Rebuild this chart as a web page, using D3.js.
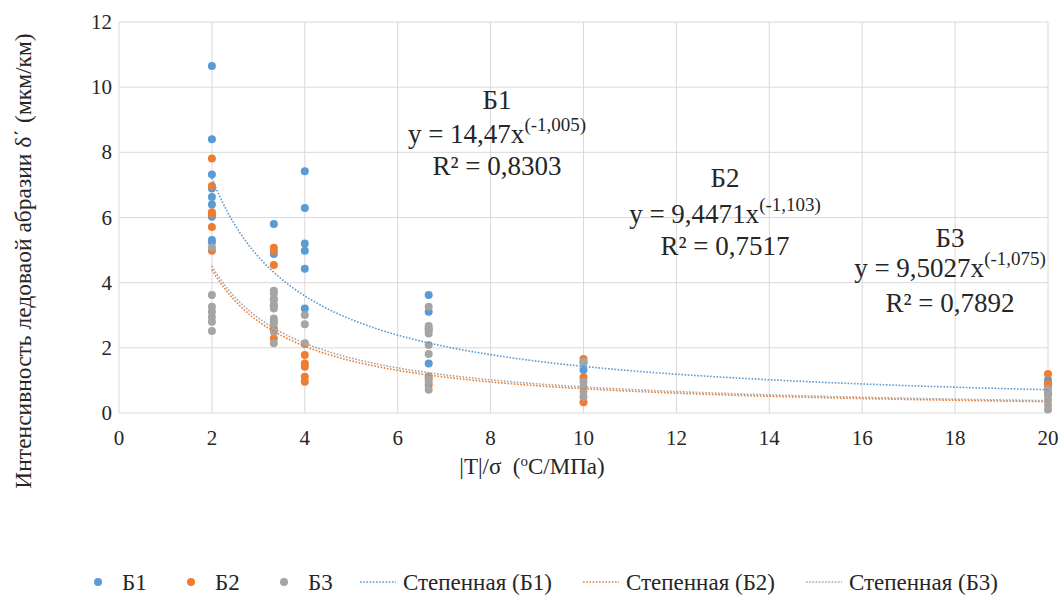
<!DOCTYPE html>
<html lang="ru">
<head>
    <meta charset="UTF-8">
    <title>Интенсивность ледовой абразии</title>
    <style>
        body {
            margin: 0;
            background: #fff;
        }
        .grid line {
            stroke: #d9d9d9;
            stroke-width: 1px;
        }
    </style>
</head>
<body>
    <svg id="chart" width="1062" height="597"></svg>

    <script src="https://d3js.org/d3.v7.min.js"></script>
    <script>
        // data: [x, y]
        const b1Points = [
            [2, 10.65], [2, 8.4], [2, 7.32], [2, 6.89], [2, 6.63], [2, 6.4], [2, 6.02], [2, 5.31], [2, 5.24],
            [3.333, 5.8], [3.333, 4.88], [3.333, 3.5], [3.333, 3.3],
            [4, 7.42], [4, 6.29], [4, 5.2], [4, 4.98], [4, 4.43], [4, 3.21],
            [6.667, 3.62], [6.667, 3.11], [6.667, 2.55], [6.667, 1.52],
            [10, 1.55], [10, 1.32],
            [20, 1.01], [20, 0.85], [20, 0.6]
        ];
        const b2Points = [
            [2, 7.81], [2, 6.97], [2, 6.16], [2, 6.1], [2, 5.71], [2, 4.98],
            [3.333, 5.07], [3.333, 4.98], [3.333, 4.54], [3.333, 2.8], [3.333, 2.6], [3.333, 2.29],
            [4, 2.12], [4, 1.78], [4, 1.52], [4, 1.42], [4, 1.11], [4, 0.96],
            [6.667, 1.06], [6.667, 0.86],
            [10, 1.66], [10, 1.1], [10, 0.33],
            [20, 1.2], [20, 0.89], [20, 0.6]
        ];
        const b3Points = [
            [2, 5.08], [2, 3.62], [2, 3.26], [2, 3.11], [2, 2.95], [2, 2.8], [2, 2.52],
            [3.333, 3.75], [3.333, 3.67], [3.333, 3.47], [3.333, 3.31], [3.333, 3.21], [3.333, 2.9], [3.333, 2.75], [3.333, 2.49], [3.333, 2.14],
            [4, 3.01], [4, 2.72], [4, 2.14],
            [6.667, 3.26], [6.667, 2.67], [6.667, 2.6], [6.667, 2.44], [6.667, 2.09], [6.667, 1.81], [6.667, 1.13], [6.667, 0.96], [6.667, 0.71],
            [10, 1.57], [10, 0.96], [10, 0.81], [10, 0.65], [10, 0.5],
            [20, 0.73], [20, 0.55], [20, 0.4], [20, 0.25], [20, 0.11]
        ];

        // power trendlines y = a * x^b, as printed on the chart
        const fitNames = ["Б1", "Б2", "Б3"];
        const fitA = [14.47, 9.4471, 9.5027];
        const fitB = [-1.005, -1.103, -1.075];
        const fitA_text = ["14,47", "9,4471", "9,5027"];
        const fitB_text = ["(-1,005)", "(-1,103)", "(-1,075)"];
        const fitR2_text = ["0,8303", "0,7517", "0,7892"];

        const xTicks = [0, 2, 4, 6, 8, 10, 12, 14, 16, 18, 20];
        const yTicks = [0, 2, 4, 6, 8, 10, 12];

        const colors = ["#5b9bd5", "#ed7d31", "#a5a5a5"];
        const serif = "'Liberation Serif', 'DejaVu Serif', serif";

        const svg = d3.select("#chart")
            .attr("font-family", serif)
            .attr("fill", "#262626");
        const x = d3.scaleLinear().domain([0, 20]).range([119, 1048]);
        const y = d3.scaleLinear().domain([0, 12]).range([413, 22]);

        // gridlines
        const grid = svg.append("g").attr("class", "grid");
        grid.selectAll(".hg").data(yTicks).join("line")
            .attr("x1", x(0)).attr("x2", x(20))
            .attr("y1", d => y(d)).attr("y2", d => y(d));
        grid.selectAll(".vg").data(xTicks).join("line")
            .attr("y1", y(0)).attr("y2", y(12))
            .attr("x1", d => x(d)).attr("x2", d => x(d));

        // tick labels
        svg.append("g").selectAll("text").data(yTicks).join("text")
            .attr("font-size", 21)
            .attr("x", 112).attr("y", d => y(d) + 7)
            .attr("text-anchor", "end")
            .text(d => d);
        svg.append("g").selectAll("text").data(xTicks).join("text")
            .attr("font-size", 21)
            .attr("x", d => x(d)).attr("y", 445)
            .attr("text-anchor", "middle")
            .text(d => d);

        // points
        [b1Points, b2Points, b3Points].forEach((pts, i) => {
            svg.append("g").selectAll("circle").data(pts).join("circle")
                .attr("cx", d => x(d[0]))
                .attr("cy", d => y(d[1]))
                .attr("r", 4)
                .attr("fill", colors[i]);
        });

        // trendlines
        const line = d3.line().x(d => x(d[0])).y(d => y(d[1]));
        fitA.forEach((a, i) => {
            const pts = d3.range(2, 20.01, 0.1).map(v => [v, a * Math.pow(v, fitB[i])]);
            svg.append("path")
                .attr("d", line(pts))
                .attr("fill", "none")
                .attr("stroke", colors[i])
                .attr("stroke-width", 1.6)
                .attr("stroke-dasharray", "1.6,1.6");
        });

        // equation notes
        const notePos = [[497, 109], [725, 187], [950, 247]];
        const noteGap = [[34, 66], [36, 68], [30, 65]];
        notePos.forEach((p, i) => {
            svg.append("text").attr("font-size", 27)
                .attr("x", p[0]).attr("y", p[1])
                .attr("text-anchor", "middle")
                .text(fitNames[i]);
            const eq = svg.append("text").attr("font-size", 27)
                .attr("x", p[0]).attr("y", p[1] + noteGap[i][0])
                .attr("text-anchor", "middle");
            eq.append("tspan").text("y = " + fitA_text[i] + "x");
            eq.append("tspan").attr("dy", -12).attr("font-size", 19).text(fitB_text[i]);
            svg.append("text").attr("font-size", 27)
                .attr("x", p[0]).attr("y", p[1] + noteGap[i][1])
                .attr("text-anchor", "middle")
                .text("R² = " + fitR2_text[i]);
        });

        // axis titles
        const xt = svg.append("text").attr("font-size", 23)
            .attr("x", 532).attr("y", 474)
            .attr("text-anchor", "middle");
        xt.append("tspan").text("|T|/σ\u00a0\u00a0(");
        xt.append("tspan").attr("dy", -8).attr("font-size", 15).text("o");
        xt.append("tspan").attr("dy", 8).text("C/МПа)");

        svg.append("text").attr("font-size", 23.5)
            .attr("transform", "translate(31,261) rotate(-90)")
            .attr("text-anchor", "middle")
            .text("Интенсивность ледоваой абразии δ΄ (мкм/км)");

        // legend
        const legY = 582;
        const legMarkers = [98, 191, 284];
        legMarkers.forEach((lx, i) => {
            svg.append("circle").attr("cx", lx).attr("cy", legY).attr("r", 4).attr("fill", colors[i]);
            svg.append("text").attr("font-size", 23)
                .attr("x", lx + 24).attr("y", legY + 8)
                .text(fitNames[i]);
        });
        const legLines = [360, 583, 806];
        legLines.forEach((lx, i) => {
            svg.append("line")
                .attr("x1", lx).attr("x2", lx + 36)
                .attr("y1", legY).attr("y2", legY)
                .attr("stroke", colors[i])
                .attr("stroke-width", 1.6)
                .attr("stroke-dasharray", "1.6,1.6");
            svg.append("text").attr("font-size", 23)
                .attr("x", lx + 43).attr("y", legY + 8)
                .text("Степенная (" + fitNames[i] + ")");
        });
    </script>
</body>
</html>
